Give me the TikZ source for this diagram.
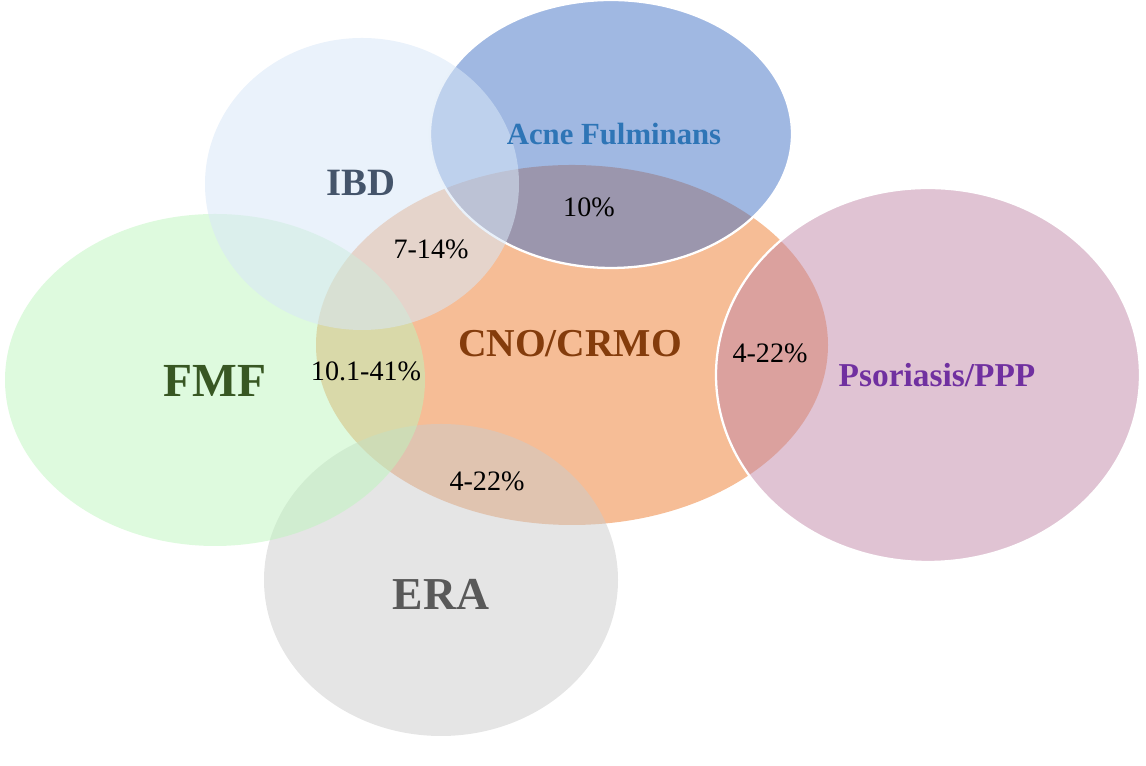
\documentclass[tikz,border=0pt]{standalone}
\usepackage{fontspec}
\setmainfont{Liberation Serif}
\usepackage{tikz}
\usepackage{xcolor}

\definecolor{cnoFill}{RGB}{246,189,150}
\definecolor{eraFill}{RGB}{203,203,203}
\definecolor{fmfFill}{RGB}{189,245,189}
\definecolor{acneFill}{RGB}{65,113,197}
\definecolor{ibdFill}{RGB}{216,231,247}
\definecolor{psoFill}{RGB}{193,135,167}
\definecolor{cnoText}{RGB}{132,60,12}
\definecolor{eraText}{RGB}{89,89,89}
\definecolor{fmfText}{RGB}{56,87,35}
\definecolor{acneText}{RGB}{46,117,182}
\definecolor{ibdText}{RGB}{68,84,106}
\definecolor{psoText}{RGB}{112,48,160}

\begin{document}
\begin{tikzpicture}[x=0.02cm,y=0.02cm,
  pct/.style={font=\fontsize{16}{18}\selectfont},
  ttl/.style={font=\bfseries\fontsize{#1}{#1}\selectfont}]
  \useasboundingbox (0,0) rectangle (1146,766);
  \coordinate (C) at (572,421); \coordinate (E) at (441,186); \coordinate (F) at (215,386);
  \coordinate (A) at (611,632); \coordinate (I) at (362,582); \coordinate (P) at (928,391);
  \fill[cnoFill] (C) ellipse [x radius=256,y radius=180];
  \fill[eraFill,opacity=0.5] (E) ellipse [x radius=177,y radius=156];
  \fill[fmfFill,opacity=0.5] (F) ellipse [x radius=210,y radius=166];
  \draw[white,line width=1.3pt,fill=acneFill,fill opacity=0.5] (A) ellipse [x radius=181,y radius=134];
  \fill[ibdFill,opacity=0.55] (I) ellipse [x radius=157,y radius=146];
  \draw[white,line width=1.3pt,fill=psoFill,fill opacity=0.5] (P) ellipse [x radius=212,y radius=187];
  \node[ttl=22.5,text=cnoText] (cno) at (570,422) {CNO/CRMO};
  \node[ttl=26,text=eraText] (era) at (441,172) {ERA};
  \node[ttl=27,text=fmfText] (fmf) at (215,385) {FMF};
  \node[ttl=17.5,text=acneText] (acne) at (614,632) {Acne Fulminans};
  \node[ttl=22,text=ibdText] (ibd) at (361,583) {IBD};
  \node[ttl=19,text=psoText] (pso) at (937,391) {Psoriasis/PPP};
  \node[pct] (pAcne) at (589,559) {10\%};
  \node[pct] (pIbd) at (431,517) {7-14\%};
  \node[pct] (pFmf) at (366,395) {10.1-41\%};
  \node[pct] (pPso) at (770,413) {4-22\%};
  \node[pct] (pEra) at (487,285) {4-22\%};
\end{tikzpicture}
\end{document}
